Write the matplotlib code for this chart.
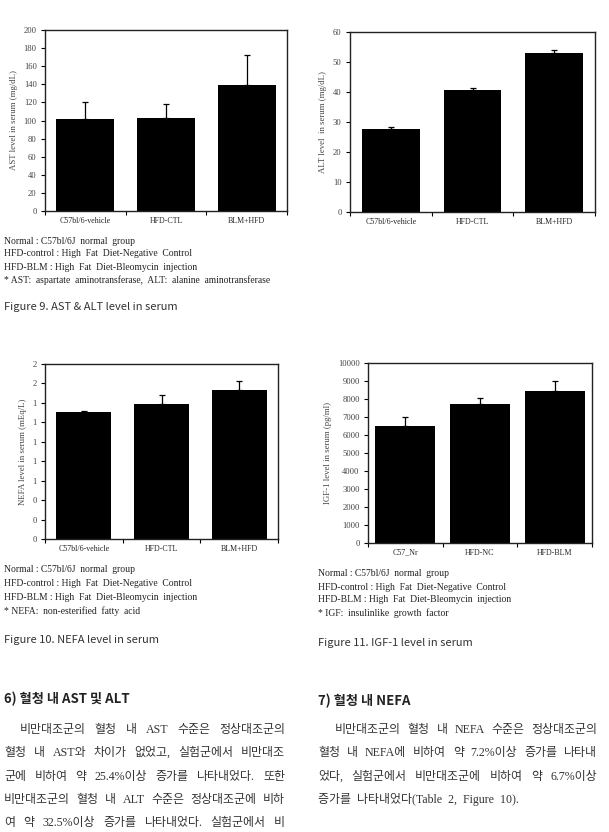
import numpy as np
import matplotlib
matplotlib.use('Agg')
import matplotlib.pyplot as plt
from matplotlib.ticker import FormatStrFormatter

plt.rcParams['font.family'] = ['Liberation Serif', 'Noto Sans CJK KR']

# datos
ast_groups = ['C57bl/6-vehicle', 'HFD-CTL', 'BLM+HFD']
ast_mean = [101.5, 103.3, 139.1]
ast_err = [18.4, 14.4, 33.2]

alt_groups = ['C57bl/6-vehicle', 'HFD-CTL', 'BLM+HFD']
alt_mean = [27.6, 40.6, 52.9]
alt_err = [0.7, 0.9, 1.0]

nefa_groups = ['C57bl/6-vehicle', 'HFD-CTL', 'BLM+HFD']
nefa_mean = [1.31, 1.39, 1.53]
nefa_err = [0.01, 0.09, 0.10]

igf_groups = ['C57_Nr', 'HFD-NC', 'HFD-BLM']
igf_mean = [6500, 7720, 8430]
igf_err = [520, 350, 560]

notes_common = ['Normal : C57bl/6J  normal  group',
                'HFD-control : High  Fat  Diet-Negative  Control',
                'HFD-BLM : High  Fat  Diet-Bleomycin  injection']
note_ast = '* AST:  aspartate  aminotransferase,  ALT:  alanine  aminotransferase'
note_nefa = '* NEFA:  non-esterified  fatty  acid'
note_igf = '* IGF:  insulinlike  growth  factor'

body_left = ['비만대조군의 혈청 내 AST 수준은 정상대조군의',
             '혈청 내 AST와 차이가 없었고, 실험군에서 비만대조',
             '군에 비하여 약 25.4%이상 증가를 나타내었다. 또한',
             '비만대조군의 혈청 내 ALT 수준은 정상대조군에 비하',
             '여 약 32.5%이상 증가를 나타내었다. 실험군에서 비']
body_right = ['비만대조군의 혈청 내 NEFA 수준은 정상대조군의',
              '혈청 내 NEFA에 비하여 약 7.2%이상 증가를 나타내',
              '었다, 실험군에서 비만대조군에 비하여 약 6.7%이상',
              '증가를  나타내었다(Table  2,  Figure  10).']

W, H = 609, 832
fig = plt.figure(figsize=(W / 100, H / 100), dpi=100)


def box(l, t, r, b):
    return [l / W, 1 - b / H, (r - l) / W, (b - t) / H]


def bar_panel(rect, groups, mean, err, ymax, step, ylabel, width, fmt=None):
    ax = fig.add_axes(rect)
    x = np.arange(len(groups))
    ax.bar(x, mean, width=width, color='black',
           yerr=[np.zeros(len(mean)), err], capsize=2,
           error_kw=dict(elinewidth=0.9, capthick=0.9, ecolor='black'))
    ax.set_xlim(-0.5, len(groups) - 0.5)
    ax.set_ylim(0, ymax)
    ax.set_yticks(np.arange(0, ymax + step / 2, step))
    if fmt:
        ax.yaxis.set_major_formatter(FormatStrFormatter(fmt))
    ax.set_xticks(x)
    ax.set_xticklabels(groups, fontsize=5.7, color='#222222')
    ax.set_xticks(np.arange(-0.5, len(groups)), minor=True)
    ax.tick_params(axis='x', which='major', length=0, pad=4)
    ax.tick_params(axis='x', which='minor', length=3, direction='out', width=0.8)
    ax.tick_params(axis='y', length=3, direction='out', width=0.8,
                   labelsize=6.2, labelcolor='#444444', pad=3)
    ax.set_ylabel(ylabel, fontsize=6.3, color='#444444', labelpad=4)
    for s in ax.spines.values():
        s.set_linewidth(1.0)
        s.set_color('#222222')
    return ax


def notes(x, ys, lines):
    for y, s in zip(ys, lines):
        fig.text(x / W, 1 - y / H, s, fontsize=6.9, color='#222222', va='center')


def caption(x, y, s):
    fig.text(x / W, 1 - y / H, s, fontsize=8.0, color='#333333', va='center',
             family=['Noto Sans CJK KR'])


def justify(line, x0, x1, y, **kw):
    words = line.split(' ')
    texts = [fig.text(x0 / W, 1 - y / H, w, va='center', **kw) for w in words]
    r = fig.canvas.get_renderer()
    widths = [t.get_window_extent(r).width for t in texts]
    gap = (x1 - x0 - sum(widths)) / (len(words) - 1)
    x = x0
    for t, w in zip(texts, widths):
        t.set_x(x / W)
        x += w + gap


# Figura 9
bar_panel(box(45, 30, 287, 211), ast_groups, ast_mean, ast_err, 200, 20,
          'AST level in serum (mg/dL)', 0.72)
bar_panel(box(350, 32, 595, 212), alt_groups, alt_mean, alt_err, 60, 10,
          'ALT level  in serum (mg/dL)', 0.71)
notes(4, [241, 254, 267, 280], notes_common + [note_ast])
caption(4, 307, 'Figure 9. AST & ALT level in serum')

# Figura 10 y 11
bar_panel(box(45, 364, 278, 539), nefa_groups, nefa_mean, nefa_err, 1.8, 0.2,
          'NEFA level in serum (mEq/L)', 0.71, fmt='%.0f')
bar_panel(box(368, 363, 592, 543), igf_groups, igf_mean, igf_err, 10000, 1000,
          'IGF-1 level in serum (pg/ml)', 0.8)
notes(4, [570, 584, 598, 611], notes_common + [note_nefa])
notes(318, [573, 587, 600, 613], notes_common + [note_igf])
caption(4, 640, 'Figure 10. NEFA level in serum')
caption(318, 643, 'Figure 11. IGF-1 level in serum')

# texto en coreano
head_kw = dict(fontsize=9.5, color='#222222', va='center',
               family=['Noto Sans CJK KR'], weight='bold')
fig.text(4 / W, 1 - 699 / H, '6) 혈청 내 AST 및 ALT', **head_kw)
fig.text(318 / W, 1 - 701 / H, '7) 혈청 내 NEFA', **head_kw)

body_kw = dict(fontsize=8.6, color='#333333')
ys = [730, 753, 777, 800, 823]
for i, line in enumerate(body_left):
    justify(line, 20 if i == 0 else 4, 285, ys[i], **body_kw)
for i, line in enumerate(body_right[:-1]):
    justify(line, 335 if i == 0 else 318, 597, ys[i], **body_kw)
fig.text(318 / W, 1 - ys[3] / H, body_right[-1], va='center', **body_kw)

fig.savefig('out.png', dpi=100)
